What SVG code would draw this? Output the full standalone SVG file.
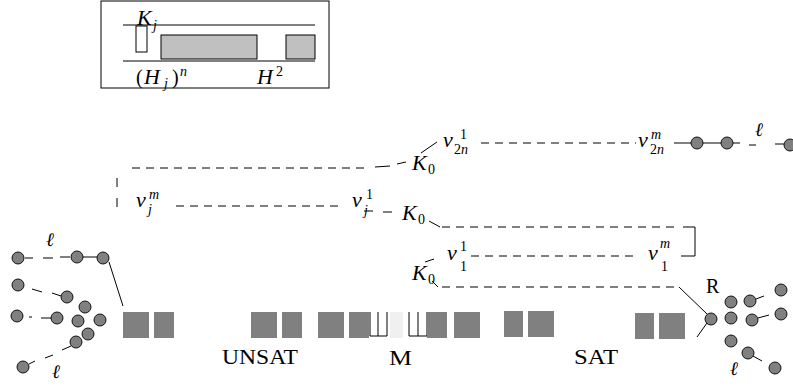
<svg xmlns="http://www.w3.org/2000/svg" width="793" height="387" viewBox="0 0 793 387">
<style>
.mi{font-family:"Liberation Serif","DejaVu Serif",serif;font-style:italic;font-size:22px;fill:#000}
.sm{font-family:"Liberation Serif","DejaVu Serif",serif;font-style:italic;font-size:14px;fill:#000}
.up{font-family:"Liberation Serif","DejaVu Serif",serif;font-size:14px;fill:#000}
.rm{font-family:"Liberation Serif","DejaVu Serif",serif;font-size:20px;fill:#000}
.ell{font-family:"DejaVu Serif","Liberation Serif",serif;font-style:italic;font-size:19px;fill:#000}
.ln{stroke:#000;stroke-width:1;fill:none}
.dl{stroke:#000;stroke-width:1;fill:none;stroke-dasharray:8 6}
.sq{fill:#808080}
.nd{fill:#808080;stroke:#000;stroke-width:0.9}
</style>
<rect width="793" height="387" fill="#fff"/>
<g id="legend">
<rect x="101" y="1" width="228" height="87" class="ln"/>
<line x1="123" y1="25" x2="315" y2="25" class="ln"/>
<line x1="123" y1="61" x2="315" y2="61" class="ln"/>
<rect x="136" y="26" width="11" height="26" fill="#fff" stroke="#000" stroke-width="1"/>
<rect x="161" y="35" width="96" height="24" fill="#c0c0c0" stroke="#000" stroke-width="1"/>
<rect x="286" y="35" width="29" height="24" fill="#c0c0c0" stroke="#000" stroke-width="1"/>
<text x="137" y="25" class="mi" font-size="20">K</text><text x="153" y="30" class="sm">j</text>
<text x="136" y="84" class="rm" font-size="20">(</text><text x="144" y="84" class="mi" font-size="20">H</text><text x="164" y="88" class="sm">j</text><text x="172" y="84" class="rm" font-size="20">)</text><text x="180" y="76" class="sm">n</text>
<text x="257" y="84" class="mi" font-size="20">H</text><text x="276" y="76" class="up">2</text>
</g>
<g id="connectors">
<path class="dl" d="M132 168H364"/>
<path class="ln" d="M375 167L390 166M397 164L406 162"/>
<path class="ln" d="M117 178V187M117 198V207"/>
<path class="dl" d="M176 206H341"/>
<path class="ln" d="M364 211H373M383 212H392"/>
<path class="ln" d="M421 153L437 142"/>
<path class="dl" d="M481 143H636"/>
<path class="ln" d="M674 143H691M703 143H721"/>
<path class="ln" d="M733 143H740M749 145H756M775 144H784"/>
<path class="ln" d="M429 221L440 227"/>
<path class="dl" d="M442 227H678"/>
<path class="ln" d="M683 227H695V256H681"/>
<path class="dl" d="M471 256H636"/>
<path class="ln" d="M425 262L434 259M432 281L438 287"/>
<path class="dl" d="M442 287H678"/>
<path class="ln" d="M679 287L707 314M707 323L697 337"/>
<path class="ln" d="M756 299L764 296M758 318L769 315M753 356L762 361"/>
<path class="ln" d="M25 258H33M43 258H53M60 257H70M83 257H97M109 262L123 306"/>
<path class="ln" d="M32 289L42 292M52 293L61 296"/>
<path class="ln" d="M29 317H32M41 318H51"/>
<path class="ln" d="M29 364L35 361M45 358L53 355M62 350L71 346"/>
</g>
<g id="labels">
<text x="443" y="147" class="mi">v</text><text x="460" y="139" class="up">1</text><text x="454" y="154" class="up">2<tspan class="sm">n</tspan></text>
<text x="638" y="147" class="mi">v</text><text x="651" y="139" class="sm">m</text><text x="650" y="154" class="up">2<tspan class="sm">n</tspan></text>
<text x="412" y="170" class="mi">K</text><text x="428" y="174" class="up">0</text>
<text x="136" y="207" class="mi">v</text><text x="149" y="199" class="sm">m</text><text x="148" y="214" class="sm">j</text>
<text x="352" y="207" class="mi">v</text><text x="366" y="199" class="up">1</text><text x="364" y="215" class="sm">j</text>
<text x="402" y="220" class="mi">K</text><text x="418" y="224" class="up">0</text>
<text x="447" y="260" class="mi">v</text><text x="460" y="251" class="up">1</text><text x="460" y="271" class="up">1</text>
<text x="648" y="260" class="mi">v</text><text x="660" y="248" class="sm">m</text><text x="661" y="271" class="up">1</text>
<text x="412" y="280" class="mi">K</text><text x="428" y="284" class="up">0</text>
<text x="46" y="246" class="ell">ℓ</text>
<text x="52" y="378" class="ell">ℓ</text>
<text x="730" y="375" class="ell">ℓ</text>
<text x="755" y="136" class="ell">ℓ</text>
<text x="222" y="364" class="rm" font-size="19" textLength="76" lengthAdjust="spacingAndGlyphs">UNSAT</text>
<text x="389" y="365" class="rm" font-size="22" textLength="23" lengthAdjust="spacingAndGlyphs">M</text>
<text x="574" y="364" class="rm" font-size="19" textLength="44" lengthAdjust="spacingAndGlyphs">SAT</text>
<text x="706" y="293" class="rm" font-size="22">R</text>
</g>
<g id="blocks">
<rect x="123" y="312" width="26" height="26" class="sq"/>
<rect x="154" y="312" width="20" height="26" class="sq"/>
<rect x="251" y="312" width="26" height="26" class="sq"/>
<rect x="282" y="312" width="20" height="26" class="sq"/>
<rect x="318" y="312" width="26" height="26" class="sq"/>
<rect x="349" y="312" width="20" height="26" class="sq"/>
<path class="ln" d="M370 312V336H387V312M378 312V336"/>
<rect x="390" y="312" width="13" height="26" fill="#f0f0f0"/>
<path class="ln" d="M409 312V336H427V312M418 312V336"/>
<rect x="427" y="312" width="20" height="26" class="sq"/>
<rect x="454" y="312" width="26" height="26" class="sq"/>
<rect x="504" y="311" width="19" height="26" class="sq"/>
<rect x="528" y="311" width="26" height="26" class="sq"/>
<rect x="635" y="313" width="19" height="26" class="sq"/>
<rect x="659" y="313" width="26" height="26" class="sq"/>
</g>
<g id="nodes-left">
<circle cx="18" cy="258" r="6" class="nd"/>
<circle cx="77" cy="257" r="6" class="nd"/>
<circle cx="103" cy="258" r="6" class="nd"/>
<circle cx="18" cy="285" r="6" class="nd"/>
<circle cx="67" cy="297" r="6" class="nd"/>
<circle cx="85" cy="307" r="6" class="nd"/>
<circle cx="17" cy="316" r="6" class="nd"/>
<circle cx="57" cy="318" r="6" class="nd"/>
<circle cx="78" cy="321" r="6" class="nd"/>
<circle cx="100" cy="320" r="6" class="nd"/>
<circle cx="88" cy="334" r="6" class="nd"/>
<circle cx="76" cy="342" r="6" class="nd"/>
<circle cx="23" cy="367" r="6" class="nd"/>
</g>
<g id="nodes-right">
<circle cx="711" cy="319" r="6" class="nd"/>
<circle cx="731" cy="302" r="6" class="nd"/>
<circle cx="731" cy="318" r="6" class="nd"/>
<circle cx="750" cy="301" r="6" class="nd"/>
<circle cx="781" cy="290" r="6" class="nd"/>
<circle cx="752" cy="320" r="6" class="nd"/>
<circle cx="781" cy="314" r="6" class="nd"/>
<circle cx="731" cy="341" r="6" class="nd"/>
<circle cx="748" cy="353" r="6" class="nd"/>
<circle cx="775" cy="368" r="6" class="nd"/>
</g>
<g id="nodes-top">
<circle cx="697" cy="143" r="6" class="nd"/>
<circle cx="727" cy="143" r="6" class="nd"/>
<circle cx="790" cy="145" r="6" class="nd"/>
</g>
</svg>
